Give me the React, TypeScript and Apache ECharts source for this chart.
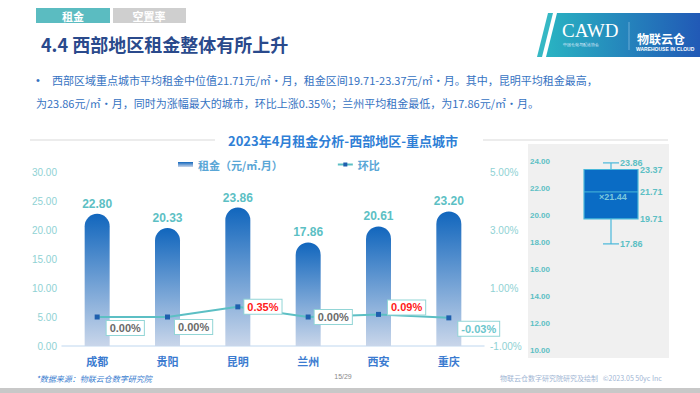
import React, { useEffect, useRef } from "react";
import * as echarts from "echarts";

const cities = ["成都", "贵阳", "昆明", "兰州", "西安", "重庆"];
const rents = [22.8, 20.33, 23.86, 17.86, 20.61, 23.2];
const momPct = [0.0, 0.0, 0.35, 0.0, 0.09, -0.03];
const leftTicks = { min: 0, max: 30, interval: 5 };
const rightTicks = { min: -1, max: 5, interval: 2 };
// box plot stats: min, Q1, median, Q3, max, mean
const boxStats = [17.86, 19.71, 21.71, 23.37, 23.86];
const boxMean = 21.44;
const boxAxis = { min: 10, max: 24, interval: 2 };

const labelOffsets = [[3, 11], [1, 10], [0, 0], [0, 0], [3, -7], [3, 11]];

const TEAL = "#5cbfc4";

export default function App() {
  const ref = useRef<HTMLDivElement>(null);
  useEffect(() => {
    const chart = echarts.init(ref.current!, null, { renderer: "svg" });
    const barGrad = new echarts.graphic.LinearGradient(0, 0, 0, 1, [
      { offset: 0, color: "#1166bd" },
      { offset: 1, color: "#c9d6ea" },
    ]);
    const logoGrad = new echarts.graphic.LinearGradient(0, 0, 1, 0, [
      { offset: 0, color: "#29b3c2" },
      { offset: 1, color: "#2159b6" },
    ]);
    const lineData = momPct.map((v, i) => ({
      value: v,
      label: {
        color: v > 0 ? "#ff1a1a" : v < 0 ? "#6cc6cc" : "#6a6a6a",
        offset: labelOffsets[i],
      },
    }));

    const option: any = {
      animation: false,
      backgroundColor: "#ffffff",
      grid: [
        { left: 62, right: 216, top: 172, bottom: 47 },
        { left: 556, right: 34, top: 161, bottom: 43 },
      ],
      legend: {
        left: 173,
        top: 154,
        itemGap: 54,
        itemWidth: 15,
        itemHeight: 5,
        textStyle: { color: "#5aa6d6", fontSize: 11, fontWeight: "bold", fontFamily: "Noto Sans CJK SC" },
        data: [
          { name: "租金（元/㎡.月）", icon: "rect" },
          { name: "环比" },
        ],
      },
      xAxis: [
        {
          type: "category",
          gridIndex: 0,
          data: cities,
          axisLine: { lineStyle: { color: "#d5e5f5", width: 1.5 } },
          axisTick: { show: false },
          axisLabel: { color: "#3b7bd0", fontSize: 11, fontWeight: "bold", margin: 9, fontFamily: "Noto Sans CJK SC" },
        },
        {
          type: "category",
          gridIndex: 1,
          data: ["box"],
          show: false,
        },
      ],
      yAxis: [
        {
          type: "value",
          gridIndex: 0,
          ...leftTicks,
          splitLine: { show: false },
          axisLine: { show: false },
          axisTick: { show: false },
          axisLabel: { color: "#8fd2d4", fontSize: 10, margin: 5, formatter: (v: number) => v.toFixed(2) },
        },
        {
          type: "value",
          gridIndex: 0,
          position: "right",
          ...rightTicks,
          splitLine: { show: false },
          axisLine: { show: false },
          axisTick: { show: false },
          axisLabel: { color: "#8fd2d4", fontSize: 10, margin: 6, formatter: (v: number) => v.toFixed(2) + "%" },
        },
        {
          type: "value",
          gridIndex: 1,
          ...boxAxis,
          splitLine: { show: false },
          axisLine: { show: false },
          axisTick: { show: false },
          axisLabel: { color: "#5cbfc4", fontSize: 8, fontWeight: "bold", margin: 6, formatter: (v: number) => v.toFixed(2) },
        },
      ],
      series: [
        {
          name: "租金（元/㎡.月）",
          type: "bar",
          xAxisIndex: 0,
          yAxisIndex: 0,
          data: rents,
          barWidth: 25,
          itemStyle: { color: barGrad, borderRadius: [12.5, 12.5, 0, 0] },
          label: {
            show: true,
            position: "top",
            distance: 4,
            color: TEAL,
            fontSize: 12,
            fontWeight: "bold",
            formatter: (p: any) => p.value.toFixed(2),
          },
        },
        {
          name: "环比",
          type: "line",
          xAxisIndex: 0,
          yAxisIndex: 1,
          data: lineData,
          symbol: "rect",
          symbolSize: 5,
          lineStyle: { color: TEAL, width: 2 },
          itemStyle: { color: "#1f5fae" },
          z: 5,
          label: {
            show: true,
            position: "right",
            distance: 4,
            fontSize: 11,
            fontWeight: "bold",
            backgroundColor: "#ffffff",
            borderColor: "#92d5d6",
            borderWidth: 1,
            padding: [2, 3, 1, 3],
            formatter: (p: any) => p.value.toFixed(2) + "%",
          },
        },
        {
          type: "custom",
          xAxisIndex: 1,
          yAxisIndex: 2,
          data: [[0, ...boxStats, boxMean]],
          renderItem: (params: any, api: any) => {
            const x = api.coord([0, boxStats[0]])[0];
            const y = (v: number) => api.coord([0, v])[1];
            const half = 27;
            const cap = 8;
            const [mn, q1, med, q3, mx] = boxStats;
            const lineSt = { stroke: "#49b8da", lineWidth: 1.2 };
            const txt = (tx: number, ty: number, s: string, fill = TEAL) => ({
              type: "text",
              style: { x: tx, y: ty, text: s, fill, fontSize: 9, fontWeight: "bold", align: "left", verticalAlign: "middle" },
            });
            return {
              type: "group",
              children: [
                { type: "line", shape: { x1: x, y1: y(mx), x2: x, y2: y(q3) }, style: lineSt },
                { type: "line", shape: { x1: x, y1: y(q1), x2: x, y2: y(mn) }, style: lineSt },
                { type: "line", shape: { x1: x - cap, y1: y(mx), x2: x + cap, y2: y(mx) }, style: lineSt },
                { type: "line", shape: { x1: x - cap, y1: y(mn), x2: x + cap, y2: y(mn) }, style: lineSt },
                {
                  type: "rect",
                  shape: { x: x - half, y: y(q3), width: half * 2, height: y(q1) - y(q3) },
                  style: { fill: "#0a6cc5", stroke: "#49b8da", lineWidth: 1.2 },
                },
                { type: "line", shape: { x1: x - half, y1: y(med), x2: x + half, y2: y(med) }, style: { stroke: "#49b8da", lineWidth: 1 } },
                txt(x + cap + 1, y(mx), mx.toFixed(2)),
                txt(x + half + 2, y(q3), q3.toFixed(2)),
                txt(x + half + 2, y(med), med.toFixed(2)),
                txt(x + half + 2, y(q1), q1.toFixed(2)),
                txt(x + cap + 1, y(mn), mn.toFixed(2)),
                txt(x - 12, y(boxMean) + 1, "×" + boxMean.toFixed(2), "#7cc8dc"),
              ],
            };
          },
        },
      ],
      graphic: [
        // header tabs
        { type: "rect", shape: { x: 36, y: 8, width: 74, height: 15 }, style: { fill: "#5bbcc1" } },
        { type: "text", style: { x: 73, y: 16, text: "租金", fill: "#fff", fontSize: 11, fontWeight: "bold", align: "center", verticalAlign: "middle", fontFamily: "Noto Sans CJK SC" } },
        { type: "rect", shape: { x: 113, y: 8, width: 73, height: 15 }, style: { fill: "#cfcfcf" } },
        { type: "text", style: { x: 149, y: 16, text: "空置率", fill: "#fff", fontSize: 11, fontWeight: "bold", align: "center", verticalAlign: "middle", fontFamily: "Noto Sans CJK SC" } },
        { type: "text", style: { x: 41, y: 44, text: "4.4 西部地区租金整体有所上升", fill: "#2a4a8c", fontSize: 18, fontWeight: "bold", verticalAlign: "middle", fontFamily: "Noto Sans CJK SC" } },
        // logo
        { type: "polygon", shape: { points: [[548, 13], [553, 13], [542, 57], [537, 57]] }, style: { fill: "#36b8c4" } },
        { type: "polygon", shape: { points: [[557, 13], [700, 13], [700, 57], [546, 57]] }, style: { fill: logoGrad } },
        { type: "text", style: { x: 562, y: 30, text: "CAWD", fill: "#fff", fontSize: 19, fontFamily: "Liberation Serif", verticalAlign: "middle" } },
        { type: "text", style: { x: 563, y: 44, text: "中国仓储与配送协会", fill: "#e0f0ff", fontSize: 4, verticalAlign: "middle" } },
        { type: "line", shape: { x1: 629, y1: 22, x2: 629, y2: 50 }, style: { stroke: "#9ccbe8", lineWidth: 0.6 } },
        { type: "text", style: { x: 637, y: 38, text: "物联云仓", fill: "#fff", fontSize: 12, fontWeight: "bold", verticalAlign: "middle", fontFamily: "Noto Sans CJK SC" } },
        { type: "text", style: { x: 636, y: 49, text: "WAREHOUSE IN CLOUD", fill: "#fff", fontSize: 5, fontWeight: "bold", verticalAlign: "middle" } },
        // bullet text
        { type: "text", style: { x: 36, y: 80, text: "•", fill: "#3572c2", fontSize: 11, verticalAlign: "middle" } },
        { type: "text", style: { x: 52, y: 80, text: "西部区域重点城市平均租金中位值21.71元/㎡·月，租金区间19.71-23.37元/㎡·月。其中，昆明平均租金最高，", fill: "#3572c2", fontSize: 11, verticalAlign: "middle", fontFamily: "Noto Sans CJK SC" } },
        { type: "text", style: { x: 36, y: 103, text: "为23.86元/㎡·月，同时为涨幅最大的城市，环比上涨0.35％；兰州平均租金最低，为17.86元/㎡·月。", fill: "#3572c2", fontSize: 11, verticalAlign: "middle", fontFamily: "Noto Sans CJK SC" } },
        // chart title
        { type: "line", shape: { x1: 30, y1: 140, x2: 215, y2: 140 }, style: { stroke: "#e6e6e6", lineWidth: 1.5 } },
        { type: "line", shape: { x1: 483, y1: 140, x2: 668, y2: 140 }, style: { stroke: "#e6e6e6", lineWidth: 1.5 } },
        { type: "text", style: { x: 343, y: 140, text: "2023年4月租金分析-西部地区-重点城市", fill: "#2f7fd6", fontSize: 13, fontWeight: "bold", align: "center", verticalAlign: "middle", letterSpacing: 1, fontFamily: "Noto Sans CJK SC" } },
        // box panel
        { type: "rect", z: -10, shape: { x: 528, y: 144, width: 141, height: 214 }, style: { fill: "#f0f0f0" } },
        // footer
        { type: "text", style: { x: 36, y: 378, text: "*数据来源：物联云仓数字研究院", fill: "#3b7ed0", fontSize: 8, fontStyle: "italic", verticalAlign: "middle", fontFamily: "Noto Sans CJK SC" } },
        { type: "text", style: { x: 343, y: 376, text: "15/29", fill: "#8a8a8a", fontSize: 7, align: "center", verticalAlign: "middle" } },
        { type: "text", style: { x: 500, y: 378, text: "物联云仓数字研究院研究及绘制   ©2023.05 50yc Inc", fill: "#9fb6d4", fontSize: 7, verticalAlign: "middle", fontFamily: "Noto Sans CJK SC" } },
        { type: "rect", shape: { x: 0, y: 388, width: 700, height: 5 }, style: { fill: "#c8c8c8" } },
      ],
    };
    chart.setOption(option);
    return () => chart.dispose();
  }, []);
  return <div ref={ref} style={{ position: "fixed", left: 0, top: 0, width: 700, height: 393 }} />;
}
